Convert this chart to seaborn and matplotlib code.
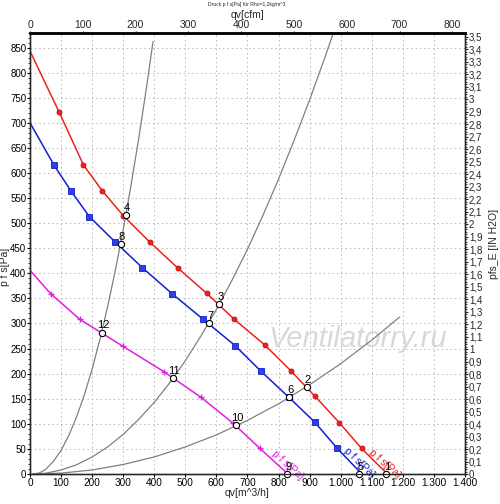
import matplotlib
matplotlib.use("Agg")
import matplotlib.pyplot as plt
import matplotlib.ticker as mticker
import seaborn as sns

# ---- data ----
# fan curves: flow qv [m^3/h], pressure p f s [Pa]
red_q = [0, 94, 172, 232, 300, 386, 475, 569, 658, 756, 839, 917, 996, 1067, 1150]
red_p = [843, 721, 616, 565, 515, 462, 411, 360, 308, 257, 206, 155, 102, 51, 0]

blue_q = [0, 77, 131, 191, 275, 362, 458, 558, 660, 743, 833, 917, 989, 1068]
blue_p = [700, 616, 565, 513, 462, 411, 359, 308, 256, 205, 153, 103, 51, 0]

mag_q = [0, 67, 161, 298, 431, 550, 652, 740, 830]
mag_p = [406, 359, 308, 255, 204, 153, 102, 51, 0]

# system (resistance) curves
sysA_q = [10, 30, 50, 75, 100, 125, 150, 175, 200, 225, 250, 275, 300, 325, 350, 375, 396]
sysA_p = [0, 2, 9, 25, 47, 77, 114, 158, 209, 268, 334, 407, 487, 575, 669, 771, 862]
sysB_q = [10, 50, 100, 150, 200, 250, 300, 350, 400, 450, 500, 550, 600, 650, 700, 750,
          800, 850, 900, 950, 975]
sysB_p = [0, 1.5, 8, 18.5, 34, 54, 79, 109, 143, 182, 226, 275, 328, 386, 448, 516,
          588, 665, 746, 832, 877]
sysC_q = [10, 100, 200, 300, 400, 500, 600, 700, 800, 900, 1000, 1100, 1190]
sysC_p = [0, 1.8, 8, 19, 34, 54, 78, 107, 140, 178, 220, 267, 313]

# operating points
op_labels = ["1", "2", "3", "4", "5", "6", "7", "8", "9", "10", "11", "12"]
op_q = [1145, 890, 609, 308, 1060, 833, 575, 292, 828, 663, 459, 231]
op_p = [0, 174, 338, 516, 0, 153, 300, 459, 0, 97, 192, 282]

x_ticks = [0, 100, 200, 300, 400, 500, 600, 700, 800, 900, 1000, 1100, 1200, 1300, 1400]
y_ticks = [0, 50, 100, 150, 200, 250, 300, 350, 400, 450, 500, 550, 600, 650, 700, 750, 800, 850]
cfm_ticks = [0, 100, 200, 300, 400, 500, 600, 700, 800]
inh2o_ticks = [round(0.1 * i, 1) for i in range(36)]

PA_PER_INH2O = 249.09
M3H_PER_CFM = 1.699
X_MAX, Y_MAX = 1400, 880

RED, BLUE, MAG, GRAY = "#f02020", "#1020d0", "#e020e0", "#808080"

sns.set_style("white")
plt.rcParams["font.family"] = ["Liberation Sans", "DejaVu Sans"]

fig = plt.figure(figsize=(5.0, 5.04), dpi=100)
ax = fig.add_axes([0.06, 0.0595, 0.87, 0.876])

# system curves
for q, p in [(sysA_q, sysA_p), (sysB_q, sysB_p), (sysC_q, sysC_p)]:
    sns.lineplot(x=q, y=p, ax=ax, color=GRAY, lw=0.9, sort=False, zorder=2)

# fan curves
sns.lineplot(x=red_q, y=red_p, ax=ax, color=RED, lw=1.1, sort=False, zorder=3)
sns.lineplot(x=blue_q, y=blue_p, ax=ax, color=BLUE, lw=1.1, sort=False, zorder=3)
sns.lineplot(x=mag_q, y=mag_p, ax=ax, color=MAG, lw=1.1, sort=False, zorder=3)

ax.plot(red_q[1:-1], red_p[1:-1], "o", ms=3.6, color=RED, mec="#c01010", mew=0.6, zorder=4)
ax.plot(blue_q[1:-1], blue_p[1:-1], "s", ms=3.8, color="#3040e0", mec=BLUE, mew=0.6, zorder=4)
ax.plot(mag_q[1:-1], mag_p[1:-1], "+", ms=5, color=MAG, mew=1.0, zorder=4)

# operating points
ax.plot(op_q, op_p, "o", ms=4.5, mfc="white", mec="black", mew=0.8, zorder=6, clip_on=False)
for lab, q, p in zip(op_labels, op_q, op_p):
    ax.annotate(lab, (q, p), xytext=(1, 1.5), textcoords="offset points",
                ha="center", va="bottom", fontsize=8, color="black", zorder=7,
                annotation_clip=False)

# curve labels
for (q, p, c, r) in [(1143, 20, RED, -41), (1059, 22, BLUE, -44), (830, 18, MAG, -42)]:
    ax.text(q, p, "p f s[Pa]", color=c, fontsize=7.5, rotation=r, ha="center", va="center",
            rotation_mode="anchor", clip_on=False, zorder=5)

# watermark
ax.text(1055, 270, "Ventilatorry.ru", fontsize=21, style="italic", color="#d8d8d8",
        ha="center", va="center", zorder=1)

# axes formatting
ax.set_xlim(0, X_MAX)
ax.set_ylim(0, Y_MAX)
ax.set_xticks(x_ticks)
ax.set_yticks(y_ticks)
ax.xaxis.set_major_formatter(mticker.FuncFormatter(lambda v, _: f"{int(v):,}".replace(",", ".")))
ax.yaxis.set_minor_locator(mticker.MultipleLocator(10))
ax.grid(True, which="major", color="#b8b8b8", ls=(0, (1.5, 3)), lw=0.7)
ax.tick_params(axis="x", which="major", direction="out", length=2, width=0.8,
               labelsize=7.2, pad=0.8, colors="black", bottom=True)
ax.tick_params(axis="y", which="major", direction="out", length=2, width=0.8,
               labelsize=7, pad=0.6, colors="black", left=True)
ax.tick_params(axis="y", which="minor", direction="out", length=1.3, width=0.6, left=True)
ax.set_xlabel("qv[m^3/h]", fontsize=7.5, labelpad=0)
ax.set_ylabel("p f s[Pa]", fontsize=7.5)
ax.yaxis.set_label_coords(-0.045, 0.47)
for s in ax.spines.values():
    s.set_color("black")
    s.set_linewidth(1.0)

# right axis (inch H2O)
ax2 = ax.twinx()
ax2.set_ylim(0, Y_MAX / PA_PER_INH2O)
ax2.set_yticks(inh2o_ticks)
ax2.yaxis.set_major_formatter(mticker.FuncFormatter(
    lambda v, _: (f"{v:.0f}" if abs(v - round(v)) < 1e-6 else f"{v:.1f}").replace(".", ",")))
ax2.yaxis.set_minor_locator(mticker.MultipleLocator(0.02))
ax2.tick_params(axis="y", which="major", direction="out", length=2, width=0.8,
                labelsize=7, pad=0.8, right=True)
ax2.tick_params(axis="y", which="minor", direction="out", length=1.3, width=0.6, right=True)
ax2.set_ylabel("pfs_E [IN H2O]", fontsize=7.5, labelpad=2)
ax2.yaxis.set_label_coords(1.055, 0.52)
ax2.grid(False)

# top axis (cfm)
ax3 = ax.twiny()
ax3.set_xlim(0, X_MAX / M3H_PER_CFM)
ax3.set_xticks(cfm_ticks)
ax3.tick_params(axis="x", which="major", direction="out", length=1.5, width=0.8,
                labelsize=7.5, pad=0.3, top=True)
ax3.set_xlabel("qv[cfm]", fontsize=7.5, labelpad=1.2)
ax3.grid(False)
ax3.spines["top"].set_linewidth(2.0)
ax3.spines["top"].set_color("black")

fig.text(0.494, 0.997, "Druck p f s[Pa] für Rho=1,2kg/m^3", ha="center", va="top", fontsize=3.6)

fig.savefig("out.png", dpi=100, facecolor="white")
